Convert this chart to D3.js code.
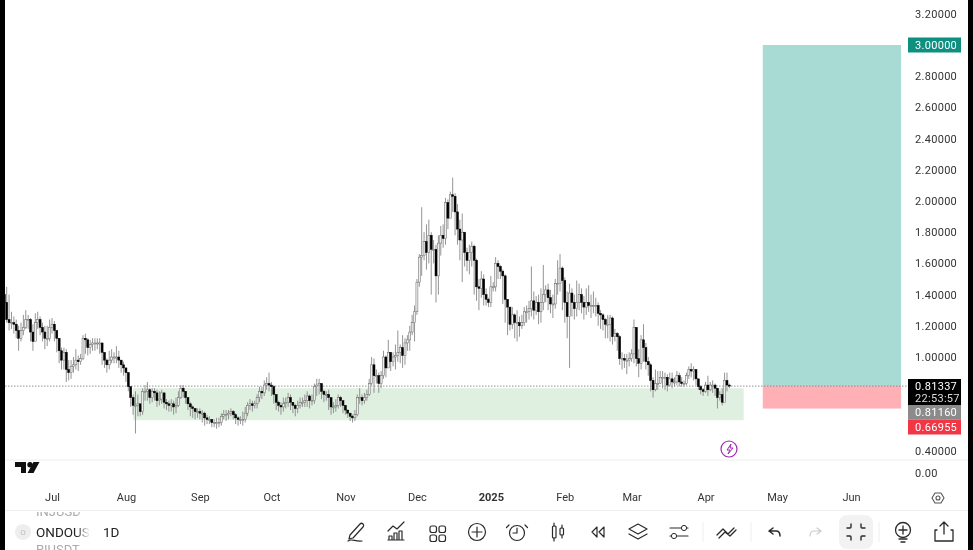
<!DOCTYPE html>
<html><head><meta charset="utf-8">
<style>html,body{margin:0;padding:0;background:#fff;overflow:hidden}svg{display:block;filter:blur(.35px)}text{font-family:Roboto,"Noto Sans",sans-serif}</style>
<script src="https://cdn.jsdelivr.net/npm/d3@7"></script></head><body>
<svg id="c" width="973" height="550"></svg>
<script>
const closes=[1.35,1.24,1.22,1.22,1.21,1.17,1.12,1.17,1.19,1.24,
1.24,1.16,1.10,1.22,1.24,1.19,1.16,1.12,1.12,1.19,
1.21,1.17,1.12,1.04,.98,1.03,.92,.90,.94,.95,
.98,.97,.99,1.12,1.11,1.06,1.08,1.09,1.09,1.09,
1.09,1.03,.98,.95,.98,1.0,1.0,1.0,.98,.95,
.93,.90,.81,.74,.69,.69,.70,.65,.78,.78,
.79,.74,.78,.77,.72,.73,.77,.71,.70,.69,.70,
.68,.69,.74,.80,.78,.74,.70,.68,.67,.65,
.65,.64,.64,.61,.60,.60,.58,.58,.58,.58,.62,
.63,.63,.64,.65,.63,.61,.60,.60,.60,.64,
.69,.70,.69,.70,.74,.78,.77,.82,.83,.82,
.81,.76,.71,.69,.68,.70,.71,.74,.71,.69,
.67,.69,.71,.71,.72,.75,.72,.72,.81,.82,
.83,.78,.76,.76,.74,.68,.68,.69,.74,.72,
.69,.66,.64,.62,.61,.63,.74,.74,.72,
.74,.76,.83,.95,.88,.88,.83,.88,1.0,.93,
1.03,.97,1.0,1.01,1.03,1.06,1.01,1.09,1.11,
1.16,1.22,1.29,1.48,1.64,1.65,1.74,1.67,1.78,1.69,
1.69,1.52,1.73,1.78,1.76,1.99,1.89,2.04,2.03,1.93,
1.82,1.75,1.80,1.67,1.62,1.67,1.71,1.62,1.45,1.44,
1.50,1.40,1.37,1.35,1.45,1.45,1.60,1.58,1.55,1.52,
1.37,1.32,1.21,1.27,1.22,1.22,1.20,1.22,1.29,
1.29,1.31,1.36,1.30,1.35,1.29,1.35,1.40,1.43,1.38,
1.34,1.34,1.47,1.47,1.57,1.49,1.35,1.26,1.41,1.35,
1.31,1.35,1.40,1.35,1.32,1.35,1.33,1.33,1.33,1.33,
1.28,1.27,1.24,1.21,1.21,1.25,1.13,1.15,1.13,.99,
.99,.98,.98,.99,1.02,1.19,.99,.96,1.11,1.06,
.97,.95,.85,.79,.83,.83,.87,.87,.87,.82,
.86,.84,.84,.88,.84,.83,.83,.88,.92,.91,
.92,.86,.81,.79,.78,.82,.79,.82,.82,.80,
.74,.76,.71,.85,.82,.81337];
const highs=[1.40,1.45,1.40,1.29,1.26,1.24,1.20,1.22,1.27,1.30,
1.27,1.25,1.21,1.28,1.29,1.26,1.22,1.20,1.20,1.24,
1.25,1.23,1.16,1.11,1.06,1.06,1.05,.98,.98,1.0,
1.05,1.01,1.02,1.14,1.15,1.12,1.11,1.12,1.12,1.12,
1.12,1.09,1.02,.99,1.04,1.05,1.03,1.07,1.04,.98,
.97,.93,.90,.81,.76,.78,.76,.70,.80,.82,
.84,.80,.80,.80,.79,.78,.79,.77,.73,.72,.73,
.72,.74,.78,.82,.82,.78,.74,.71,.69,.67,
.67,.67,.66,.65,.63,.62,.60,.60,.61,.61,.64,
.66,.66,.66,.67,.66,.64,.62,.62,.65,.68,
.71,.73,.72,.72,.76,.81,.81,.85,.87,.90,
.84,.82,.74,.72,.71,.74,.74,.77,.76,.71,
.70,.72,.74,.74,.76,.78,.76,.76,.83,.86,
.86,.83,.79,.78,.79,.74,.71,.73,.76,.75,
.72,.69,.66,.64,.63,.66,.76,.80,.76,
.77,.79,.86,1.00,.99,.92,.90,.91,1.04,1.01,
1.11,1.01,1.03,1.08,1.17,1.08,1.14,1.12,1.14,
1.20,1.27,1.33,1.50,1.66,1.96,1.80,1.85,1.88,1.80,
1.75,1.72,1.78,1.84,1.85,2.02,2.01,2.06,2.15,2.05,
1.98,1.88,1.92,1.72,1.70,1.72,1.74,1.72,1.63,1.50,
1.55,1.53,1.44,1.38,1.52,1.48,1.64,1.62,1.59,1.56,
1.53,1.36,1.31,1.32,1.28,1.30,1.26,1.27,1.32,
1.33,1.36,1.58,1.42,1.39,1.40,1.44,1.59,1.46,1.47,
1.43,1.40,1.50,1.62,1.66,1.58,1.51,1.42,1.47,1.44,
1.40,1.49,1.47,1.44,1.39,1.44,1.46,1.40,1.42,1.38,
1.35,1.30,1.28,1.25,1.27,1.27,1.26,1.18,1.16,1.14,
1.03,1.02,1.02,1.03,1.05,1.24,1.19,1.05,1.14,1.21,
1.09,1.00,.96,.87,.92,.91,.91,.91,.90,.89,
.90,.90,.87,.91,.90,.87,.85,.90,.94,.96,
.94,.91,.85,.82,.80,.84,.88,.84,.85,.83,
.80,.78,.80,.90,.90,.83];
const lows=[1.30,1.22,1.17,1.18,1.15,1.12,1.04,1.10,1.14,1.18,
1.18,1.10,1.04,1.14,1.18,1.14,1.10,1.05,1.07,1.10,
1.15,1.10,1.03,.96,.92,.92,.84,.85,.86,.90,
.92,.91,.95,.98,1.02,1.01,1.02,1.04,1.04,1.05,
1.02,.95,.93,.90,.92,.96,.96,.96,.93,.90,
.88,.84,.78,.68,.63,.51,.62,.62,.63,.72,
.72,.70,.71,.72,.68,.69,.70,.67,.66,.65,.65,
.63,.64,.68,.73,.74,.70,.66,.62,.61,.60,
.61,.60,.58,.56,.57,.57,.55,.55,.54,.55,.56,
.60,.59,.60,.62,.60,.57,.56,.57,.56,.58,
.62,.66,.65,.67,.67,.71,.73,.75,.79,.78,
.75,.70,.66,.65,.63,.65,.67,.68,.66,.64,
.62,.64,.67,.68,.68,.68,.67,.69,.70,.75,
.76,.73,.71,.72,.66,.63,.64,.65,.67,.68,
.64,.63,.61,.59,.58,.59,.62,.70,.69,
.70,.72,.75,.82,.77,.83,.77,.80,.86,.87,
.93,.91,.94,.92,.97,.96,.93,.95,1.04,
1.04,1.14,1.10,1.27,1.45,1.52,1.62,1.56,1.60,1.40,
1.60,1.35,1.40,1.65,1.70,1.72,1.82,1.90,1.93,1.78,
1.72,1.62,1.48,1.58,1.55,1.53,1.58,1.40,1.36,1.30,
1.38,1.33,1.33,1.32,1.32,1.42,1.42,1.50,1.50,1.34,
1.22,1.14,1.17,1.18,1.12,1.10,1.13,1.18,1.20,
1.22,1.24,1.26,1.24,1.27,1.21,1.22,1.30,1.35,1.30,
1.28,1.25,1.31,1.40,1.42,1.30,1.22,1.12,.93,1.26,
1.24,1.26,1.30,1.28,1.24,1.27,1.29,1.25,1.28,1.26,
1.20,1.18,1.17,1.12,1.12,1.10,1.08,1.10,1.04,.95,
.92,.93,.89,.94,.97,.96,.94,.87,.92,.97,
.92,.88,.78,.74,.78,.79,.83,.80,.79,.78,
.81,.80,.81,.82,.81,.81,.81,.82,.86,.87,
.85,.82,.79,.76,.75,.77,.75,.78,.77,.75,
.67,.72,.69,.72,.78,.80];
const priceTicks=[3.2,3.0,2.8,2.6,2.4,2.2,2.0,1.8,1.6,1.4,1.2,1.0,.4];
const monthDates=["2024-07-01","2024-08-01","2024-09-01","2024-10-01","2024-11-01","2024-12-01","2025-01-01","2025-02-01","2025-03-01","2025-04-01","2025-05-01","2025-06-01"];
const monthLabels=["Jul","Aug","Sep","Oct","Nov","Dec","2025","Feb","Mar","Apr","May","Jun"];
const lastDate="2025-04-11";
const supportZone=[.80,.595];const supportDates=["2024-08-04","2025-04-17"];
const targetPrice=3.0,entryPrice=.81337,stopPrice=.66955;
const tradeDates=["2025-04-25","2025-06-22"];
const tags=[["3.00000","#0e9080"],["0.81160","#8b8b8b"],["0.66955","#f23645"]];

const svg=d3.select("#c");
const x=d3.scaleUtc().domain([new Date(monthDates[0]),new Date(monthDates[11])]).range([52,851]);
const y=d3.scaleLinear().domain([1,2]).range([357,201]);
const last=new Date(lastDate),n=closes.length;
const candles=closes.map((c,i)=>({date:d3.utcDay.offset(last,i-n+1),o:i?closes[i-1]:1.40,c,h:highs[i],l:lows[i]}));

// zones
svg.append("rect").attr("x",x(new Date(supportDates[0]))).attr("width",x(new Date(supportDates[1]))-x(new Date(supportDates[0])))
 .attr("y",y(supportZone[0])).attr("height",y(supportZone[1])-y(supportZone[0])).attr("fill","#dff0e0");
const tx0=x(new Date(tradeDates[0])),tx1=x(new Date(tradeDates[1]));
svg.append("rect").attr("x",tx0).attr("width",tx1-tx0).attr("y",y(targetPrice)).attr("height",y(entryPrice)-y(targetPrice)).attr("fill","#a8dbd3");
svg.append("rect").attr("x",tx0).attr("width",tx1-tx0).attr("y",y(entryPrice)).attr("height",y(stopPrice)-y(entryPrice)).attr("fill","#ffb0b5");
svg.append("line").attr("x1",5).attr("x2",908).attr("y1",y(entryPrice)).attr("y2",y(entryPrice)).attr("stroke","#777").attr("stroke-width",.8).attr("stroke-dasharray","1.5 1.5");

// candles
const g=svg.append("g");
g.selectAll("line.w").data(candles).join("line").attr("class","w")
 .attr("x1",d=>x(d.date)).attr("x2",d=>x(d.date)).attr("y1",d=>y(d.h)).attr("y2",d=>y(d.l))
 .attr("stroke","#888").attr("stroke-width",.9);
g.selectAll("rect.b").data(candles).join("rect").attr("class","b")
 .attr("x",d=>x(d.date)-1).attr("width",2)
 .attr("y",d=>y(Math.max(d.o,d.c))).attr("height",d=>Math.max(1,Math.abs(y(d.o)-y(d.c))))
 .attr("fill",d=>d.c>=d.o?"#eee":"#000").attr("stroke",d=>d.c>=d.o?"#666":"#000").attr("stroke-width",.5);

// price axis
const ya=d3.axisRight(y).tickValues(priceTicks).tickFormat(d3.format(".5f")).tickSize(0).tickPadding(0);
const yg=svg.append("g").attr("transform","translate(915,0)").call(ya);
yg.select(".domain").remove();
yg.selectAll("text").attr("font-size",11).attr("fill","#333").attr("letter-spacing",.3);

// price tags
const tagY=[y(3.0),412,427];
tags.forEach((t,i)=>{const h=15;
 svg.append("rect").attr("x",908).attr("y",tagY[i]-h/2).attr("width",53).attr("height",h).attr("fill",t[1]);
 svg.append("text").attr("x",915).attr("y",tagY[i]+4).attr("font-size",11).attr("fill","#fff").attr("letter-spacing",.3).text(t[0]);});
svg.append("rect").attr("x",908).attr("y",379).attr("width",53).attr("height",26).attr("fill","#000");
svg.append("text").attr("x",915).attr("y",390).attr("font-size",11).attr("fill","#fff").attr("letter-spacing",.3).text("0.81337");
svg.append("text").attr("x",915).attr("y",402).attr("font-size",11).attr("fill","#ddd").attr("letter-spacing",.3).text("22:53:57");

// panes
[460,510].forEach(v=>svg.append("line").attr("x1",5).attr("x2",968).attr("y1",v).attr("y2",v).attr("stroke","#eee"));
svg.append("text").attr("x",915).attr("y",477).attr("font-size",11).attr("fill","#333").attr("letter-spacing",.3).text("0.00");

// time axis
const xa=d3.axisBottom(x).tickValues(monthDates.map(d=>new Date(d))).tickFormat((d,i)=>monthLabels[i]).tickSize(0).tickPadding(0);
const xg=svg.append("g").attr("transform","translate(0,493.5)").call(xa);
xg.select(".domain").remove();
xg.selectAll("text").attr("font-size",11).attr("fill","#333").attr("font-weight",(d,i)=>monthLabels[i]==="2025"?700:400);

// TV logo
svg.append("path").attr("d","M15 462h11v11h-5v-6h-6zM39.5 462l-6 11h-6l6-11z").attr("fill","#111");
svg.append("circle").attr("cx",30).attr("cy",464.7).attr("r",2.7).attr("fill","#111");
// lightning
svg.append("circle").attr("cx",729).attr("cy",449).attr("r",8).attr("fill","#fff").attr("stroke","#9c27b0").attr("stroke-width",1.2);
svg.append("path").attr("d","M731 444l-4 6h3l-2 4 5-6h-3z").attr("fill","none").attr("stroke","#9c27b0").attr("stroke-width",1);
// gear
const ic=(p,o={})=>svg.append("path").attr("d",p).attr("fill",o.fill||"none").attr("stroke",o.stroke||"#2a2a2a").attr("stroke-width",o.w||1.2).attr("stroke-linecap","round").attr("stroke-linejoin","round");
ic("M932 498l3-5h6l3 5-3 5h-6z",{stroke:"#555",w:1.1});
svg.append("circle").attr("cx",938).attr("cy",498).attr("r",2).attr("fill","none").attr("stroke","#555").attr("stroke-width",1.1);

// bottom bar
const fade=svg.append("defs").append("linearGradient").attr("id","fd");
fade.append("stop").attr("offset","0%").attr("stop-color","#fff").attr("stop-opacity",0);
fade.append("stop").attr("offset","100%").attr("stop-color","#fff");
svg.append("text").attr("x",36).attr("y",516).attr("font-size",13).attr("fill","#aaa").text("INJUSD");
svg.append("text").attr("x",36).attr("y",554).attr("font-size",13).attr("fill","#aaa").text("RIUSDT");
svg.append("rect").attr("x",5).attr("y",504).attr("width",963).attr("height",8).attr("fill","#fff");
svg.append("circle").attr("cx",23).attr("cy",532).attr("r",8).attr("fill","#eee");
svg.append("text").attr("x",23).attr("y",535).attr("text-anchor","middle").attr("font-size",8).attr("fill","#bbb").text("O");
svg.append("text").attr("x",36).attr("y",537).attr("font-size",13.5).attr("fill","#222").text("ONDOUS");
svg.append("rect").attr("x",76).attr("y",511).attr("width",14).attr("height",39).attr("fill","url(#fd)");
svg.append("text").attr("x",103).attr("y",537).attr("font-size",13.5).attr("fill","#222").text("1D");
svg.append("rect").attr("x",5).attr("y",510).attr("width",963).attr("height",1).attr("fill","#eee");

// pen
ic("M350 535l10-11a2 2 0 0 1 3 3l-10 11-4 1zM348 541c4-3 7 1 14-0");
// chart
ic("M388 531l5-5 4 3 7-7M388 540h16M389 540v-4h3v4M394 540v-7h3v7M399 540v-9h3v9");
// grid
[[430,526],[439,526],[430,535],[439,535]].forEach(p=>svg.append("rect").attr("x",p[0]).attr("y",p[1]).attr("width",6.5).attr("height",6.5).attr("rx",2).attr("fill","none").attr("stroke","#2a2a2a").attr("stroke-width",1.2));
// plus
svg.append("circle").attr("cx",477).attr("cy",532).attr("r",8.5).attr("fill","none").attr("stroke","#2a2a2a").attr("stroke-width",1.2);
ic("M472 532h10M477 527v10");
// alarm
svg.append("circle").attr("cx",517).attr("cy",533).attr("r",7.5).attr("fill","none").attr("stroke","#2a2a2a").attr("stroke-width",1.2);
ic("M517 528v5h-4M509 525l-2.5 2.5M525 525l2.5 2.5");
// candles icon
svg.append("rect").attr("x",552.5).attr("y",526).attr("width",3.5).attr("height",12).attr("rx",1).attr("fill","none").attr("stroke","#2a2a2a").attr("stroke-width",1.2);
svg.append("rect").attr("x",560).attr("y",528).attr("width",3.5).attr("height",7).attr("rx",1).attr("fill","none").attr("stroke","#2a2a2a").attr("stroke-width",1.2);
ic("M554 523v3M554 538v3M562 525v3M562 535v3");
// rewind
ic("M597 527l-5 5 5 5zM604 527l-5 5 5 5z");
// layers
ic("M638 524l9 5-9 5-9-5zM629 534l9 5 9-5");
// sliders
ic("M670 528h11M687 528h1M670 536h1M677 536h11");
svg.append("circle").attr("cx",684).attr("cy",528).attr("r",2.6).attr("fill","none").attr("stroke","#2a2a2a");
svg.append("circle").attr("cx",674).attr("cy",536).attr("r",2.6).attr("fill","none").attr("stroke","#2a2a2a");
// wave
ic("M717 535l6-6 5 5 6-6M719 538l6-6 5 4 6-6",{w:1.3});
// undo, redo
ic("M769 531l4-3M769 531l4 3M769 531h7c3 0 4 2 4 5",{w:1.5});
ic("M821 531l-4-3M821 531l-4 3M821 531h-7c-3 0-4 2-4 5",{stroke:"#ccc",w:1.2});
// full screen
svg.append("rect").attr("x",839).attr("y",515).attr("width",34).attr("height",34).attr("rx",8).attr("fill","#f2f2f2");
ic("M851 524v3a1 1 0 0 1-1 1h-3M861 524v3a1 1 0 0 0 1 1h3M851 540v-3a1 1 0 0 0-1-1h-3M861 540v-3a1 1 0 0 1 1-1h3",{w:1.4});
// bulb
svg.append("circle").attr("cx",903).attr("cy",530).attr("r",7.5).attr("fill","none").attr("stroke","#2a2a2a").attr("stroke-width",1.3);
ic("M899 530h8M903 526v8M899 539h8M901 542h4",{w:1.3});
// share
ic("M937 530h-2v11h18v-11h-2M944 534v-11M940 526l4-4 4 4",{w:1.3});
// separators
[703,751,879].forEach(v=>svg.append("line").attr("x1",v).attr("x2",v).attr("y1",522).attr("y2",542).attr("stroke","#eee"));

// device edge
svg.append("rect").attr("x",0).attr("y",0).attr("width",5).attr("height",550).attr("fill","#000");
svg.append("rect").attr("x",968).attr("y",0).attr("width",5).attr("height",550).attr("fill","#000");
</script></body></html>
